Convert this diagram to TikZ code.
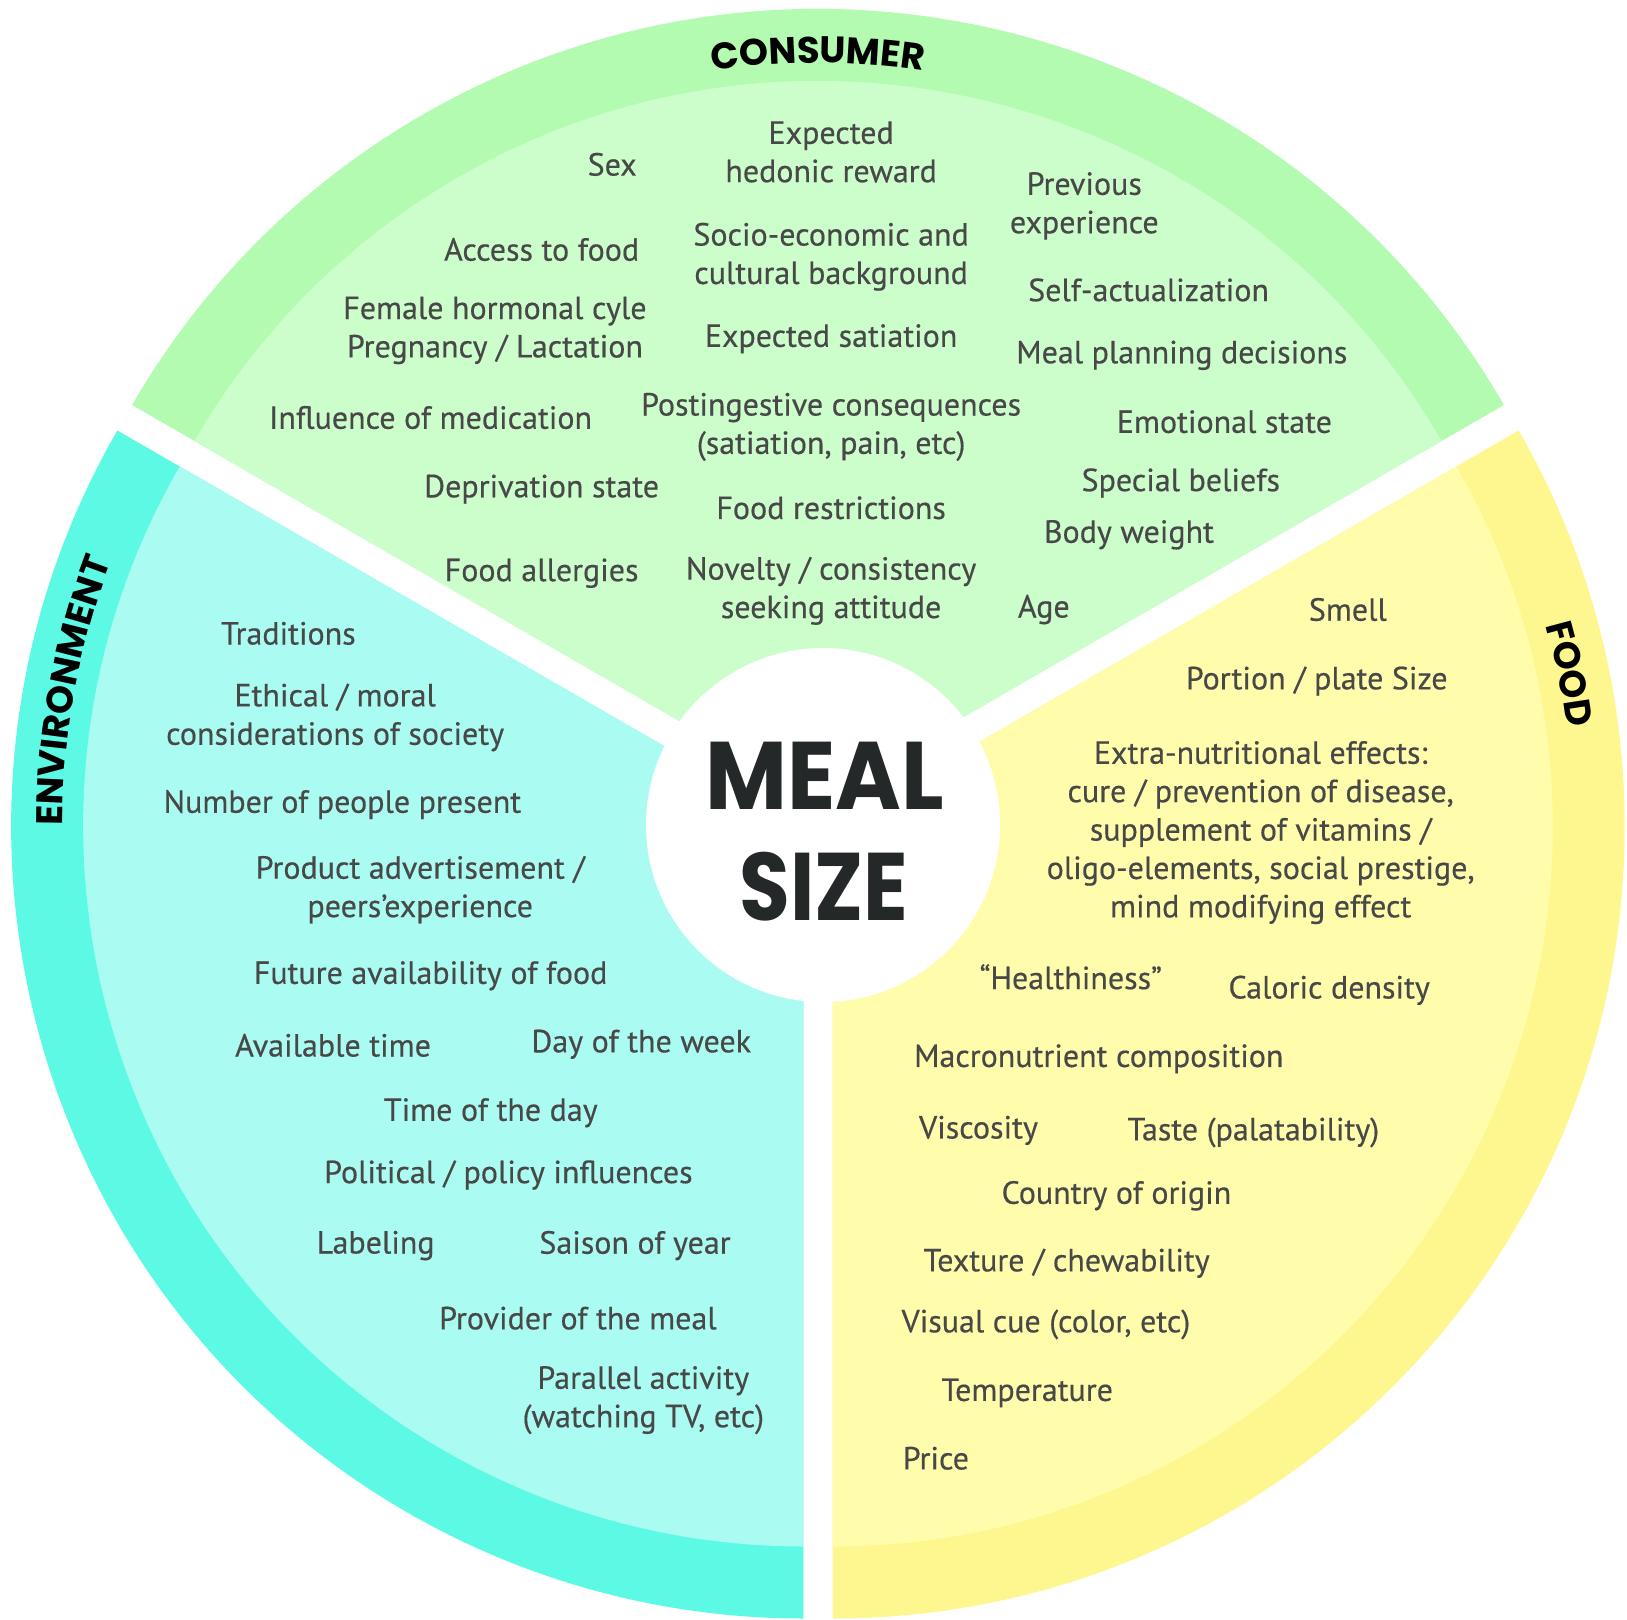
\documentclass[tikz,border=0pt]{standalone}
\usepackage{graphicx}
\usepackage{fontspec}
\setmainfont{PT Sans}[FakeBold=0.4]
\newfontfamily\headfont{Poppins}
\usetikzlibrary{decorations.text}
\definecolor{consumer-band}{RGB}{178, 251, 176}
\definecolor{consumer-fill}{RGB}{204, 254, 204}
\definecolor{environment-band}{RGB}{92, 250, 229}
\definecolor{environment-fill}{RGB}{170, 252, 242}
\definecolor{food-band}{RGB}{254, 247, 143}
\definecolor{food-fill}{RGB}{255, 253, 172}
\definecolor{label-grey}{RGB}{72, 72, 72}
\definecolor{centre-dark}{RGB}{37, 40, 40}
\tikzset{
  factor/.style={font=\fontsize{32}{38.4}\selectfont, text=label-grey, align=center, inner sep=0pt},
  headline/.style={decorate, decoration={text along path, text align=center,
      text={|\headfont\bfseries\fontsize{37}{37}\selectfont|#1}}}
}

\begin{document}
\begin{tikzpicture}[x=1pt, y=1pt]
\useasboundingbox (-818,-801) rectangle (809,818);
\fill[white] (-818,-801) rectangle (809,818);

% exploded pie: each sector pushed 17 out along its middle
\begin{scope}[shift={(90:17)}]
  \fill[consumer-band] (0,0) -- (30:792) arc[start angle=30, end angle=150, radius=792] -- cycle;
  \fill[consumer-fill] (0,0) -- (30:720) arc[start angle=30, end angle=150, radius=720] -- cycle;
  \path[headline=CONSUMER] (120:738) arc[start angle=120, end angle=60, radius=738];
\end{scope}
\begin{scope}[shift={(210:17)}]
  \fill[environment-band] (0,0) -- (150:792) arc[start angle=150, end angle=270, radius=792] -- cycle;
  \fill[environment-fill] (0,0) -- (150:720) arc[start angle=150, end angle=270, radius=720] -- cycle;
  \path[headline=ENVIRONMENT] (199.5:741) arc[start angle=199.5, end angle=139.5, radius=741];
\end{scope}
\begin{scope}[shift={(330:17)}]
  \fill[food-band] (0,0) -- (270:792) arc[start angle=270, end angle=390, radius=792] -- cycle;
  \fill[food-fill] (0,0) -- (270:720) arc[start angle=270, end angle=390, radius=720] -- cycle;
  \path[headline=FOOD] (41.7:741) arc[start angle=41.7, end angle=-18.3, radius=741];
\end{scope}

% the hub
\fill[white] (5,-7) circle[radius=177];
\node[anchor=base, text=centre-dark, font=\headfont\bfseries\fontsize{96}{96}\selectfont] (meal) at (7,8) {\scalebox{0.93}[1]{MEAL}};
\node[anchor=base, text=centre-dark, font=\headfont\bfseries\fontsize{96}{96}\selectfont] (size) at (6,-102) {\scalebox{0.86}[1]{SIZE}};

% factors, placed from the top left
\begin{scope}[x=1.0376pt, y=-1.0376pt, shift={(-818pt,816.5pt)}]
  % consumer
  \node[factor] (sex) at (590,157) {Sex};
  \node[factor] (hedonic) at (801,145) {Expected\\hedonic reward};
  \node[factor] (previous) at (1045,197) {Previous\\experience};
  \node[factor] (access) at (522,239) {Access to food};
  \node[factor] (socio) at (801,246) {Socio-economic and\\cultural background};
  \node[factor] (selfact) at (1107,278) {Self-actualization};
  \node[factor] (hormonal) at (477,317) {Female hormonal cyle\\Pregnancy / Lactation};
  \node[factor] (satiation) at (801,325) {Expected satiation};
  \node[factor] (planning) at (1139,341) {Meal planning decisions};
  \node[factor] (medication) at (415,401) {Influence of medication};
  \node[factor] (postingestive) at (801,410) {Postingestive consequences\\(satiation, pain, etc)};
  \node[factor] (emotional) at (1180,405) {Emotional state};
  \node[factor] (deprivation) at (522,470) {Deprivation state};
  \node[factor] (beliefs) at (1138,464) {Special beliefs};
  \node[factor] (restrictions) at (801,488) {Food restrictions};
  \node[factor] (weight) at (1088,514) {Body weight};
  \node[factor] (allergies) at (522,551) {Food allergies};
  \node[factor] (novelty) at (801,568) {Novelty / consistency\\seeking attitude};
  \node[factor] (age) at (1006,586) {Age};
  % environment
  \node[factor] (traditions) at (278,609) {Traditions};
  \node[factor] (ethical) at (323,690) {Ethical / moral\\considerations of society};
  \node[factor] (people) at (330,774) {Number of people present};
  \node[factor] (advert) at (405,856) {Product advertisement /\\peers’experience};
  \node[factor] (future) at (415,939) {Future availability of food};
  \node[factor] (available) at (321,1006) {Available time};
  \node[factor] (weekday) at (618,1005) {Day of the week};
  \node[factor] (daytime) at (473,1071) {Time of the day};
  \node[factor] (policy) at (490,1131) {Political / policy influences};
  \node[factor] (labeling) at (362,1199) {Labeling};
  \node[factor] (season) at (612,1199) {Saison of year};
  \node[factor] (provider) at (557,1269) {Provider of the meal};
  \node[factor] (parallel) at (620,1348) {Parallel activity\\(watching TV, etc)};
  % food
  \node[factor] (smell) at (1299,586) {Smell};
  \node[factor] (portion) at (1269,655) {Portion / plate Size};
  \node[factor] (extra) at (1215,801) {Extra-nutritional effects:\\cure / prevention of disease,\\supplement of vitamins /\\oligo-elements, social prestige,\\mind modifying effect};
  \node[factor] (healthy) at (1032,940) {“Healthiness”};
  \node[factor] (caloric) at (1281,953) {Caloric density};
  \node[factor] (macro) at (1059,1019) {Macronutrient composition};
  \node[factor] (viscosity) at (943,1088) {Viscosity};
  \node[factor] (taste) at (1208,1090) {Taste (palatability)};
  \node[factor] (origin) at (1076,1151) {Country of origin};
  \node[factor] (texture) at (1028,1216) {Texture / chewability};
  \node[factor] (visual) at (1008,1275) {Visual cue (color, etc)};
  \node[factor] (temperature) at (990,1341) {Temperature};
  \node[factor] (price) at (902,1404) {Price};
\end{scope}
\end{tikzpicture}
\end{document}
